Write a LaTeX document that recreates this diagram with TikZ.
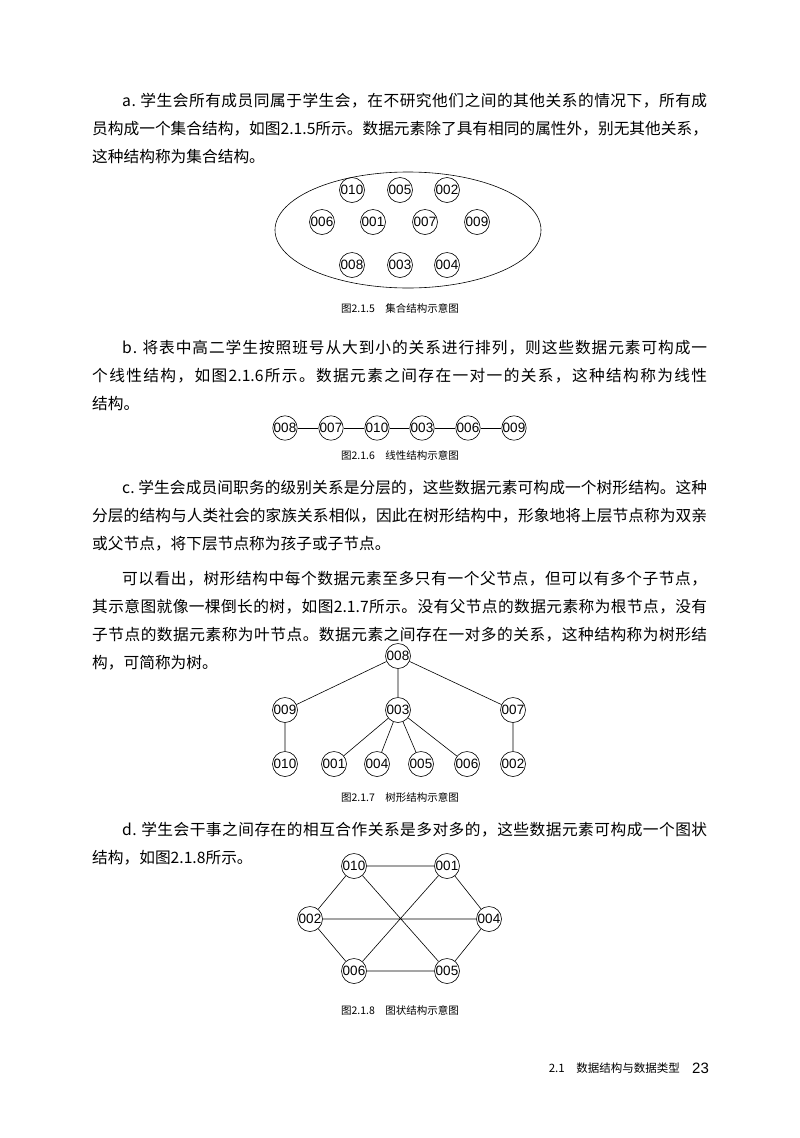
\documentclass[tikz,border=0pt]{standalone}
\usepackage{fontspec}
\setmainfont{Liberation Serif}
\newfontfamily\cjk{Noto Sans CJK SC}
\newfontfamily\lab{Liberation Sans}
\def\spreadaux#1{\ifx\relax#1\else\hfil{#1}\expandafter\spreadaux\fi}
\def\spreadfirst#1{{#1}\spreadaux}
\newcommand{\fl}[2]{\hbox to #1{\spreadfirst#2\relax}}
\begin{document}
\begin{tikzpicture}[x=1pt,y=-1pt,
  el/.style={draw,circle,inner sep=0pt,minimum size=25pt,font=\lab\fontsize{13.5}{13.5}\selectfont,line width=0.6pt},
  elb/.style={el,minimum size=23pt},
  txt/.style={anchor=base west,inner sep=0pt,font=\cjk\fontsize{15.7}{20}\selectfont},
  figcap/.style={anchor=base,inner sep=0pt,font=\cjk\fontsize{10.5}{12}\selectfont},
  ln/.style={line width=0.6pt}]
\useasboundingbox (0,0) rectangle (800,1138);
% paragraph a
\node[txt] (a1) at (122,106) {\fl{585pt}{a.\ 学生会所有成员同属于学生会，在不研究他们之间的其他关系的情况下，所有成}};
\node[txt] (a2) at (92,134) {\fl{615pt}{员构成一个集合结构，如图{2.1.5}所示。数据元素除了具有相同的属性外，别无其他关系，}};
\node[txt] (a3) at (92,162) {这种结构称为集合结构。};
% fig 2.1.5
\draw[ln] (408,230) ellipse (133 and 58);
\foreach \n/\x/\y in {010/352/190,005/400/190,002/447/190,006/322/222,001/373/222,007/425/222,009/477/222,008/352/265,003/400/265,004/447/265}
  \node[el] (s\n) at (\x,\y) {\n};
\node[figcap] (c5) at (400,312) {图2.1.5\quad 集合结构示意图};
% paragraph b
\node[txt] (b1) at (122,353) {\fl{585pt}{b.\ 将表中高二学生按照班号从大到小的关系进行排列，则这些数据元素可构成一}};
\node[txt] (b2) at (92,381) {\fl{615pt}{个线性结构，如图{2.1.6}所示。数据元素之间存在一对一的关系，这种结构称为线性}};
\node[txt] (b3) at (92,409) {结构。};
% fig 2.1.6
\foreach \n/\x in {008/285,007/331,010/377,003/422,006/468,009/514}
  \node[elb] (l\n) at (\x,428) {\n};
\draw[ln] (l008)--(l007)--(l010)--(l003)--(l006)--(l009);
\node[figcap] (c6) at (400,459) {图2.1.6\quad 线性结构示意图};
% paragraph c
\node[txt] (c1) at (122,493) {\fl{585pt}{c.\ 学生会成员间职务的级别关系是分层的，这些数据元素可构成一个树形结构。这种}};
\node[txt] (c2) at (92,521) {\fl{615pt}{分层的结构与人类社会的家族关系相似，因此在树形结构中，形象地将上层节点称为双亲}};
\node[txt] (c3) at (92,549) {或父节点，将下层节点称为孩子或子节点。};
\node[txt] (d1) at (122,584) {\fl{585pt}{可以看出，树形结构中每个数据元素至多只有一个父节点，但可以有多个子节点，}};
\node[txt] (d2) at (92,612) {\fl{615pt}{其示意图就像一棵倒长的树，如图{2.1.7}所示。没有父节点的数据元素称为根节点，没有}};
\node[txt] (d3) at (92,640) {\fl{615pt}{子节点的数据元素称为叶节点。数据元素之间存在一对多的关系，这种结构称为树形结}};
\node[txt] (d4) at (92,668) {构，可简称为树。};
% fig 2.1.7
\node[el] (t008) at (398,656) {008};
\node[el] (t009) at (285,710) {009};
\node[el] (t003) at (398,710) {003};
\node[el] (t007) at (513,710) {007};
\foreach \n/\x in {010/285,001/334,004/377,005/421,006/467,002/513}
  \node[el] (t\n) at (\x,764) {\n};
\draw[ln] (t008)--(t009) (t008)--(t003) (t008)--(t007) (t009)--(t010) (t007)--(t002)
  (t003)--(t001) (t003)--(t004) (t003)--(t005) (t003)--(t006);
\node[figcap] (c7) at (400,801) {图2.1.7\quad 树形结构示意图};
% paragraph d
\node[txt] (e1) at (122,835) {\fl{585pt}{d.\ 学生会干事之间存在的相互合作关系是多对多的，这些数据元素可构成一个图状}};
\node[txt] (e2) at (92,863) {结构，如图2.1.8所示。};
% fig 2.1.8
\node[el] (g010) at (354,866) {010};
\node[el] (g001) at (447,866) {001};
\node[el] (g002) at (310,919) {002};
\node[el] (g004) at (489,919) {004};
\node[el] (g006) at (354,971) {006};
\node[el] (g005) at (447,971) {005};
\draw[ln] (g010)--(g001) (g010)--(g002) (g010)--(g005) (g001)--(g004) (g001)--(g006)
  (g002)--(g004) (g002)--(g006) (g006)--(g005) (g005)--(g004);
\node[figcap] (c8) at (400,1014) {图2.1.8\quad 图状结构示意图};
% footer
\node[anchor=base east,inner sep=0pt,font=\cjk\fontsize{11.5}{12}\selectfont] (f1) at (680,1072) {2.1\quad 数据结构与数据类型};
\node[anchor=base west,inner sep=0pt,font=\lab\fontsize{15}{16}\selectfont] (f2) at (692,1073) {23};
\end{tikzpicture}
\end{document}
